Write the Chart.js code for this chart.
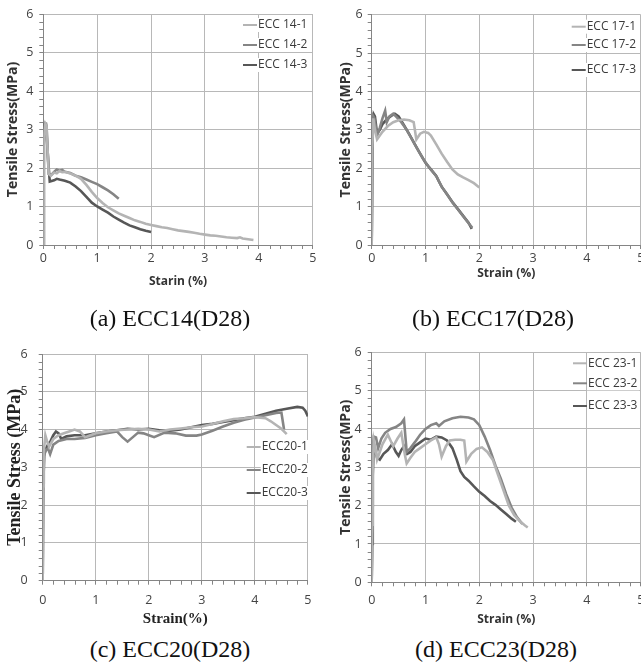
<!DOCTYPE html>
<html><head><meta charset="utf-8">
<script src="https://cdn.jsdelivr.net/npm/chart.js@4/dist/chart.umd.min.js"></script>
<style>
html,body{margin:0;padding:0;background:#fff;overflow:hidden;width:641px;height:664px;position:relative;}
canvas{position:absolute;display:block;}
.cap{position:absolute;font-family:"Liberation Serif","Times New Roman",serif;font-size:24px;color:#111;white-space:nowrap;transform:translate(-50%,-50%);line-height:1;}
</style></head><body>
<canvas id="ca" width="320" height="300" style="left:0;top:0"></canvas>
<canvas id="cb" width="340" height="300" style="left:320px;top:0"></canvas>
<canvas id="cc" width="320" height="300" style="left:0;top:330px"></canvas>
<canvas id="cd" width="340" height="300" style="left:320px;top:330px"></canvas>
<div class="cap" id="capa" style="left:170px;top:318px"></div>
<div class="cap" id="capb" style="left:493px;top:318px"></div>
<div class="cap" id="capc" style="left:170px;top:649px"></div>
<div class="cap" id="capd" style="left:496px;top:649px"></div>
<script>
// ---- tick labels & captions ----
const xTickLabels = ['0','1','2','3','4','5'];
const yTickLabels = ['0','1','2','3','4','5','6'];
const captions = ['(a) ECC14(D28)','(b) ECC17(D28)','(c) ECC20(D28)','(d) ECC23(D28)'];
const namesA = ['ECC 14-1','ECC 14-2','ECC 14-3'];
const namesB = ['ECC 17-1','ECC 17-2','ECC 17-3'];
const namesC = ['ECC20-1','ECC20-2','ECC20-3'];
const namesD = ['ECC 23-1','ECC 23-2','ECC 23-3'];

// ---- series: [strain %, stress MPa] ----
const ECC14_1 = [[0,0],[0.005,1.5],[0.01,2.6],[0.02,2.9],[0.04,3.15],[0.06,3.1],[0.1,1.85],[0.14,1.8],[0.2,1.88],[0.25,1.86],[0.3,1.92],[0.35,1.89],[0.4,1.9],[0.5,1.86],[0.6,1.8],[0.7,1.72],[0.8,1.56],[0.9,1.38],[1.0,1.22],[1.1,1.09],[1.2,0.98],[1.3,0.9],[1.4,0.82],[1.5,0.76],[1.6,0.7],[1.7,0.64],[1.8,0.6],[1.9,0.55],[2.0,0.52],[2.1,0.49],[2.2,0.46],[2.3,0.44],[2.4,0.41],[2.5,0.38],[2.6,0.36],[2.7,0.34],[2.8,0.32],[2.9,0.29],[3.0,0.27],[3.1,0.25],[3.2,0.24],[3.3,0.22],[3.4,0.2],[3.5,0.19],[3.6,0.18],[3.65,0.2],[3.7,0.17],[3.8,0.15],[3.9,0.13]];
const ECC14_2 = [[0,0],[0.01,2.7],[0.03,3.15],[0.06,3.1],[0.1,1.85],[0.15,1.82],[0.2,1.9],[0.25,1.96],[0.3,1.93],[0.35,1.95],[0.4,1.9],[0.5,1.87],[0.6,1.8],[0.7,1.76],[0.8,1.7],[0.9,1.64],[1.0,1.58],[1.1,1.5],[1.2,1.42],[1.3,1.32],[1.4,1.2]];
const ECC14_3 = [[0,0],[0.01,2.8],[0.02,3.15],[0.05,3.15],[0.09,2.2],[0.12,1.65],[0.2,1.68],[0.25,1.72],[0.3,1.7],[0.4,1.67],[0.5,1.62],[0.6,1.52],[0.7,1.4],[0.8,1.25],[0.9,1.1],[1.0,1.0],[1.1,0.92],[1.2,0.84],[1.3,0.74],[1.4,0.66],[1.5,0.58],[1.6,0.51],[1.7,0.46],[1.8,0.41],[1.9,0.37],[2.0,0.34]];

const ECC17_1 = [[0,0],[0.01,2.5],[0.03,3.3],[0.06,3.0],[0.1,2.75],[0.15,2.85],[0.2,2.95],[0.3,3.1],[0.4,3.2],[0.5,3.25],[0.6,3.27],[0.7,3.25],[0.78,3.2],[0.83,2.75],[0.9,2.9],[0.97,2.95],[1.05,2.92],[1.1,2.85],[1.2,2.62],[1.3,2.38],[1.4,2.17],[1.5,1.97],[1.6,1.84],[1.7,1.76],[1.8,1.69],[1.9,1.61],[2.0,1.5]];
const ECC17_2 = [[0,0],[0.01,2.8],[0.03,3.35],[0.05,3.3],[0.1,2.85],[0.15,3.05],[0.2,3.3],[0.25,3.5],[0.28,3.2],[0.33,3.35],[0.4,3.42],[0.45,3.35],[0.55,3.2],[0.65,3.0],[0.75,2.75],[0.85,2.5],[0.95,2.26],[1.05,2.05],[1.15,1.88],[1.22,1.75],[1.3,1.52],[1.4,1.32],[1.5,1.11],[1.6,0.93],[1.7,0.75],[1.8,0.57],[1.87,0.45]];
const ECC17_3 = [[0,0],[0.02,2.9],[0.04,3.4],[0.06,3.35],[0.1,2.9],[0.15,3.0],[0.2,3.15],[0.3,3.3],[0.38,3.38],[0.43,3.42],[0.5,3.35],[0.6,3.12],[0.7,2.88],[0.8,2.63],[0.9,2.38],[1.0,2.14],[1.1,1.97],[1.2,1.8],[1.24,1.68],[1.3,1.52],[1.4,1.32],[1.5,1.12],[1.6,0.94],[1.7,0.76],[1.8,0.58],[1.86,0.42]];

const ECC20_1 = [[0,0],[0.01,2.5],[0.02,3.4],[0.05,3.85],[0.08,3.7],[0.12,3.55],[0.2,3.75],[0.3,3.85],[0.4,3.9],[0.5,3.95],[0.6,4.0],[0.7,3.95],[0.8,3.8],[0.9,3.85],[1.0,3.9],[1.2,3.95],[1.4,3.98],[1.6,4.0],[1.8,4.02],[2.0,4.0],[2.2,3.95],[2.4,4.0],[2.6,4.03],[2.8,4.06],[3.0,4.08],[3.2,4.15],[3.4,4.22],[3.6,4.28],[3.8,4.3],[4.0,4.33],[4.2,4.3],[4.3,4.22],[4.4,4.12],[4.5,4.02],[4.6,3.88]];
const ECC20_2 = [[0,0],[0.01,2.6],[0.02,3.3],[0.06,3.45],[0.1,3.5],[0.14,3.35],[0.2,3.6],[0.3,3.7],[0.45,3.75],[0.6,3.75],[0.8,3.78],[1.0,3.85],[1.2,3.9],[1.4,3.95],[1.5,3.8],[1.6,3.68],[1.7,3.8],[1.8,3.92],[1.9,3.9],[2.0,3.85],[2.1,3.8],[2.3,3.92],[2.5,3.9],[2.7,3.84],[2.9,3.84],[3.0,3.87],[3.2,3.97],[3.4,4.08],[3.6,4.18],[3.8,4.26],[4.0,4.32],[4.2,4.38],[4.4,4.44],[4.5,4.45],[4.55,4.0]];
const ECC20_3 = [[0,0],[0.01,2.5],[0.03,3.35],[0.06,3.5],[0.1,3.6],[0.15,3.7],[0.2,3.85],[0.25,3.95],[0.3,3.9],[0.35,3.75],[0.45,3.82],[0.6,3.85],[0.8,3.85],[1.0,3.9],[1.2,3.95],[1.4,3.98],[1.6,4.02],[1.8,4.0],[2.0,4.02],[2.2,3.98],[2.4,3.97],[2.6,4.0],[2.8,4.06],[3.0,4.12],[3.2,4.15],[3.4,4.2],[3.6,4.25],[3.8,4.3],[4.0,4.34],[4.2,4.42],[4.4,4.5],[4.6,4.55],[4.8,4.6],[4.9,4.58],[4.95,4.5],[5.0,4.35]];

const ECC23_1 = [[0,0],[0.01,1.5],[0.02,3.0],[0.04,3.7],[0.07,3.5],[0.1,3.2],[0.15,3.4],[0.2,3.6],[0.3,3.85],[0.35,3.7],[0.4,3.55],[0.48,3.75],[0.55,3.9],[0.62,3.3],[0.65,3.1],[0.72,3.25],[0.8,3.4],[0.9,3.5],[1.0,3.6],[1.1,3.7],[1.2,3.78],[1.25,3.6],[1.3,3.28],[1.38,3.55],[1.45,3.7],[1.55,3.72],[1.65,3.72],[1.72,3.7],[1.76,3.15],[1.85,3.35],[1.95,3.48],[2.05,3.52],[2.15,3.4],[2.25,3.2],[2.35,2.8],[2.45,2.4],[2.55,2.0],[2.65,1.75],[2.75,1.6],[2.85,1.48],[2.9,1.43]];
const ECC23_2 = [[0,0],[0.01,2.0],[0.02,3.5],[0.04,3.8],[0.08,3.78],[0.12,3.5],[0.18,3.75],[0.25,3.9],[0.35,4.0],[0.45,4.05],[0.55,4.15],[0.6,4.25],[0.65,3.4],[0.72,3.5],[0.8,3.65],[0.9,3.85],[1.0,4.0],[1.1,4.1],[1.2,4.15],[1.25,4.08],[1.35,4.2],[1.5,4.28],[1.65,4.32],[1.8,4.3],[1.9,4.25],[2.0,4.1],[2.1,3.8],[2.2,3.45],[2.3,3.05],[2.4,2.7],[2.5,2.3],[2.6,1.95],[2.7,1.7],[2.8,1.52]];
const ECC23_3 = [[0,0],[0.01,1.0],[0.02,2.8],[0.04,3.6],[0.07,3.4],[0.1,3.25],[0.15,3.2],[0.22,3.35],[0.3,3.45],[0.38,3.6],[0.45,3.4],[0.5,3.3],[0.55,3.45],[0.6,3.55],[0.66,3.35],[0.72,3.4],[0.8,3.55],[0.9,3.65],[1.0,3.75],[1.1,3.72],[1.2,3.8],[1.3,3.78],[1.4,3.7],[1.5,3.5],[1.58,3.2],[1.65,2.9],[1.72,2.75],[1.8,2.65],[1.9,2.5],[2.0,2.36],[2.1,2.25],[2.2,2.12],[2.3,2.02],[2.4,1.9],[2.5,1.78],[2.6,1.66],[2.68,1.58]];

const COLORS = ['#b4b4b4','#858585','#575757'];
const MINOR_STEP = 0.2;
const GRID_COLOR = '#b8b8b8';
const AXIS_COLOR = '#858585';

const legendInside = {
  id:'legendInside',
  afterDatasetsDraw(chart, args, o){
    const ctx = chart.ctx;
    ctx.save();
    ctx.font = o.font;
    chart.data.datasets.forEach((ds,i)=>{
      const y = o.ys[i], x = o.x;
      const tw = ctx.measureText(ds.label).width;
      ctx.fillStyle = '#fff';
      ctx.fillRect(x + o.len, y - 7, tw + 3, 14);
      ctx.strokeStyle = ds.borderColor; ctx.lineWidth = 2;
      ctx.beginPath(); ctx.moveTo(x, y); ctx.lineTo(x + o.len, y); ctx.stroke();
      ctx.fillStyle = o.color; ctx.textBaseline = 'middle'; ctx.textAlign = 'left';
      ctx.fillText(ds.label, x + o.len + 1, y);
    });
    ctx.restore();
  }
};

// minor tick marks between the major ticks, placed with the scales' own pixel mapping
const minorTicks = {
  id:'minorTicks',
  beforeDatasetsDraw(chart){
    const ctx = chart.ctx, xs = chart.scales.x, ys = chart.scales.y;
    const a = chart.chartArea;
    ctx.save();
    ctx.strokeStyle = AXIS_COLOR; ctx.lineWidth = 1;
    ctx.beginPath();
    const nx = Math.round((xs.max - xs.min) / MINOR_STEP);
    for (let k = 1; k < nx; k++) {
      if (k % 5 === 0) continue;
      const px = Math.round(xs.getPixelForValue(xs.min + k * MINOR_STEP)) + 0.5;
      ctx.moveTo(px, a.bottom); ctx.lineTo(px, a.bottom + 4);
    }
    const ny = Math.round((ys.max - ys.min) / MINOR_STEP);
    for (let k = 1; k < ny; k++) {
      if (k % 5 === 0) continue;
      const py = Math.round(ys.getPixelForValue(ys.min + k * MINOR_STEP)) + 0.5;
      ctx.moveTo(a.left - 4, py); ctx.lineTo(a.left, py);
    }
    ctx.stroke();
    ctx.restore();
  }
};

function makeChart(id, names, series, c){
  const canvas = document.getElementById(id);
  const H = canvas.height, W = canvas.width;
  return new Chart(canvas, {
    type:'scatter',
    data:{datasets: series.map((s,i)=>({
      label: names[i],
      data: s.map(p=>({x:p[0], y:p[1]})),
      showLine:true, borderColor:COLORS[i], backgroundColor:COLORS[i],
      borderWidth:2.6, pointRadius:0, tension:0, fill:false
    }))},
    options:{
      responsive:false, animation:false, events:[],
      layout:{padding:{left:0, top:c.T, right:W - c.R, bottom:0}},
      plugins:{legend:{display:false}, tooltip:{enabled:false},
        legendInside:{x:c.lx, ys:c.ly, len:14, font:'12px "Open Sans"', color:'#3a3a3a'}},
      scales:{
        x:{type:'linear', min:0, max:5,
          afterFit:s=>{ s.height = H - c.B; },
          ticks:{stepSize:1, autoSkip:false, maxRotation:0, padding:c.xPad,
            color:'#444', font:{family:'"Open Sans"', size:12.5},
            callback:v=> xTickLabels[Math.round(v)]},
          grid:{display:true, drawTicks:true, tickLength:4, color:GRID_COLOR, tickColor:AXIS_COLOR, lineWidth:1},
          border:{display:true, color:AXIS_COLOR, width:1},
          title:{display:true, text:c.xTitle, color:c.tColor,
            font:c.xFont, padding:{top:0, bottom:c.xtPad}}
        },
        y:{type:'linear', min:0, max:6,
          afterFit:s=>{ s.width = c.L; },
          ticks:{stepSize:1, autoSkip:false, padding:c.yPad,
            color:'#444', font:{family:'"Open Sans"', size:12.5},
            callback:v=> yTickLabels[Math.round(v)]},
          grid:{display:true, drawTicks:true, tickLength:4, color:GRID_COLOR, tickColor:AXIS_COLOR, lineWidth:1},
          border:{display:true, color:AXIS_COLOR, width:1},
          title:{display:true, text:c.yTitle, color:c.tColor,
            font:c.yFont, padding:{top:c.ytPad, bottom:0}}
        }
      }
    },
    plugins:[minorTicks, legendInside]
  });
}

const sansX = {family:'"Open Sans"', size:12, weight:'bold'};
const sansY = {family:'"Open Sans"', size:14, weight:'bold'};

makeChart('ca', namesA, [ECC14_1, ECC14_2, ECC14_3], {
  L:43.3, T:14, R:312.7, B:245, xPad:1.5, yPad:6,
  xTitle:'Starin (%)', yTitle:'Tensile Stress(MPa)', tColor:'#333',
  xFont:sansX, yFont:sansY, xtPad:10.8, ytPad:4.6, lx:243, ly:[25,45,65]});
makeChart('cb', namesB, [ECC17_1, ECC17_2, ECC17_3], {
  L:51.7, T:14.7, R:320.7, B:245, xPad:1.5, yPad:5,
  xTitle:'Strain (%)', yTitle:'Tensile Stress(MPa)', tColor:'#333',
  xFont:sansX, yFont:sansY, xtPad:18.8, ytPad:17.6, lx:251.7, ly:[26.7,45,70]});
makeChart('cc', namesC, [ECC20_1, ECC20_2, ECC20_3], {
  L:42.7, T:24, R:313.3, B:250.7, xPad:8.5, yPad:11,
  xTitle:'Strain(%)', yTitle:'Tensile Stress (MPa)', tColor:'#222',
  xFont:{family:'"Liberation Serif"', size:15, weight:'bold'},
  yFont:{family:'"Liberation Serif"', size:18, weight:'bold'},
  xtPad:2, ytPad:4.2, lx:246.7, ly:[117,140,163]});
makeChart('cd', namesD, [ECC23_1, ECC23_2, ECC23_3], {
  L:51.7, T:22.3, R:320.7, B:252.3, xPad:6.5, yPad:6,
  xTitle:'Strain (%)', yTitle:'Tensile Stress(MPa)', tColor:'#333',
  xFont:sansX, yFont:sansY, xtPad:2.8, ytPad:17.6, lx:253, ly:[33.3,53.3,76]});

['capa','capb','capc','capd'].forEach((id,i)=>{ document.getElementById(id).textContent = captions[i]; });
</script>
</body></html>
